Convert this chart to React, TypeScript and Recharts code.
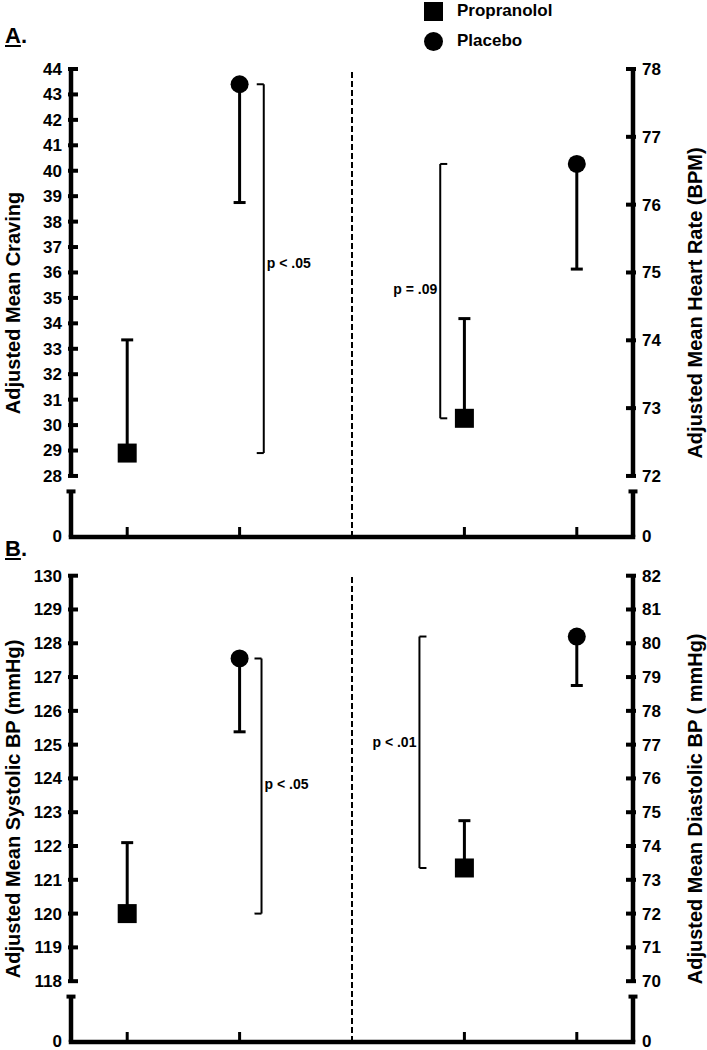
import React from 'react';
import { ComposedChart, Scatter, ErrorBar, XAxis, YAxis, ReferenceLine, Legend } from 'recharts';

const FONT = '"Liberation Sans", Arial, Helvetica, sans-serif';

const groups = ['Propranolol', 'Placebo'];
// x slots: left measure at 1 and 3, right measure at 7 and 9 (axis runs 0..10)
const leftSlots = [1, 3];
const rightSlots = [7, 9];

// Panel A
const craving = [28.9, 43.4];
const cravingErr = [4.45, 4.65];
const heartRate = [72.85, 76.6];
const heartRateErr = [1.47, 1.55];
const cravingTicks = [28, 29, 30, 31, 32, 33, 34, 35, 36, 37, 38, 39, 40, 41, 42, 43, 44];
const heartRateTicks = [72, 73, 74, 75, 76, 77, 78];
const pA = ['p < .05', 'p = .09'];

// Panel B
const systolic = [120.0, 127.55];
const systolicErr = [2.1, 2.17];
const diastolic = [73.35, 80.2];
const diastolicErr = [1.4, 1.45];
const systolicTicks = [118, 119, 120, 121, 122, 123, 124, 125, 126, 127, 128, 129, 130];
const diastolicTicks = [70, 71, 72, 73, 74, 75, 76, 77, 78, 79, 80, 81, 82];
const pB = ['p < .05', 'p < .01'];

const GAP = 0.15; // broken-axis gap, as a share of the axis range
const CAP = 0.038;

const squareShape = (p: any) => (
  <rect x={p.cx - 9.5} y={p.cy - 9.5} width={19} height={19} fill="#000" />
);
const circleShape = (p: any) => <circle cx={p.cx} cy={p.cy} r={9} fill="#000" />;

const XTick = (props: any) => {
  const { x, y } = props;
  return <line x1={x} x2={x} y1={y} y2={y - 10} stroke="#000" strokeWidth={3} />;
};

const makeYTick = (side: 'left' | 'right', lo: number, cap: number) => (props: any) => {
  const { x, y, payload } = props;
  const v = payload.value as number;
  const inward = side === 'left' ? 1 : -1;
  if (Math.abs(v - cap) < 1e-6) {
    return <line x1={x - 4.5} x2={x + 4.5} y1={y} y2={y} stroke="#000" strokeWidth={4} />;
  }
  const isZero = Math.abs(v - lo) < 1e-6;
  return (
    <g>
      {!isZero && (
        <line x1={x - 3 * inward} x2={x + 7 * inward} y1={y} y2={y} stroke="#000" strokeWidth={4} />
      )}
      <text
        x={side === 'left' ? x - 9 : x + 9}
        y={y}
        dy={isZero ? '0.3em' : '0.35em'}
        textAnchor={side === 'left' ? 'end' : 'start'}
        fontFamily={FONT}
        fontWeight={700}
        fontSize={17}
        fill="#000"
      >
        {isZero ? '0' : v}
      </text>
    </g>
  );
};

type Measure = {
  title: string;
  ticks: number[];
  values: number[];
  errs: number[];
  p: string;
  titleOffset: number;
  bracketX: number;
  labelDy: number;
};

type PanelProps = {
  top: number;
  height: number;
  plotTop: number;
  plotBottom: number;
  left: Measure;
  right: Measure;
  legend?: boolean;
};

const axisRange = (ticks: number[]) => {
  const min = ticks[0];
  const max = ticks[ticks.length - 1];
  const lo = min - GAP * (max - min);
  const cap = min - CAP * (max - min);
  return { min, max, lo, cap };
};

function Panel({ top, height, plotTop, plotBottom, left, right, legend }: PanelProps) {
  const L = axisRange(left.ticks);
  const R = axisRange(right.ticks);
  const X_H = 5;
  const margin = { top: plotTop, bottom: height - plotBottom - X_H, left: 0, right: 0 };
  const TICK = 0.125;

  const seriesFor = (m: Measure, slots: number[]) => [
    [{ x: slots[0], y: m.values[0], err: [0, m.errs[0]] }],
    [{ x: slots[1], y: m.values[1], err: [m.errs[1], 0] }],
  ];
  const [lPro, lPla] = seriesFor(left, leftSlots);
  const [rPro, rPla] = seriesFor(right, rightSlots);

  const bracket = (id: string, m: Measure, dir: number, pos: 'left' | 'right') => {
    const lowV = Math.min(m.values[0], m.values[1]);
    const highV = Math.max(m.values[0], m.values[1]);
    const common = { yAxisId: id, stroke: '#000', strokeWidth: 2, ifOverflow: 'visible' as const };
    return [
      <ReferenceLine
        key={id + 'v'}
        {...common}
        segment={[{ x: m.bracketX, y: lowV }, { x: m.bracketX, y: highV }]}
        label={{
          value: m.p,
          position: pos,
          offset: 3,
          dy: m.labelDy,
          fill: '#000',
          fontSize: 14,
          fontWeight: 700,
          fontFamily: FONT,
        }}
      />,
      <ReferenceLine
        key={id + 'l'}
        {...common}
        segment={[{ x: m.bracketX, y: lowV }, { x: m.bracketX + dir * TICK, y: lowV }]}
      />,
      <ReferenceLine
        key={id + 'h'}
        {...common}
        segment={[{ x: m.bracketX, y: highV }, { x: m.bracketX + dir * TICK, y: highV }]}
      />,
    ];
  };

  const axisLine = { stroke: '#000', strokeWidth: 4.5, ifOverflow: 'visible' as const };

  return (
    <div style={{ position: 'absolute', left: 0, top }}>
      <ComposedChart width={707} height={height} margin={margin}>
        <XAxis
          type="number"
          dataKey="x"
          domain={[0, 10]}
          ticks={[...leftSlots, ...rightSlots]}
          allowDataOverflow
          height={X_H}
          axisLine={{ stroke: '#000', strokeWidth: 4.5, strokeLinecap: 'square' }}
          tickLine={false}
          tickSize={0}
          tickMargin={0}
          tick={XTick}
          interval={0}
        />
        <YAxis
          yAxisId="left"
          type="number"
          dataKey="y"
          width={71}
          domain={[L.lo, L.max]}
          allowDataOverflow
          ticks={[L.lo, L.cap, ...left.ticks]}
          interval={0}
          axisLine={false}
          tickLine={false}
          tickSize={0}
          tickMargin={0}
          tick={makeYTick('left', L.lo, L.cap)}
          label={{
            value: left.title,
            angle: -90,
            position: 'insideLeft',
            offset: left.titleOffset,
            style: { textAnchor: 'middle' },
            fill: '#000',
            fontSize: 20,
            fontWeight: 700,
            fontFamily: FONT,
          }}
        />
        <YAxis
          yAxisId="right"
          orientation="right"
          type="number"
          dataKey="y"
          width={74}
          domain={[R.lo, R.max]}
          allowDataOverflow
          ticks={[R.lo, R.cap, ...right.ticks]}
          interval={0}
          axisLine={false}
          tickLine={false}
          tickSize={0}
          tickMargin={0}
          tick={makeYTick('right', R.lo, R.cap)}
          label={{
            value: right.title,
            angle: -90,
            position: 'insideRight',
            offset: right.titleOffset,
            style: { textAnchor: 'middle' },
            fill: '#000',
            fontSize: 20,
            fontWeight: 700,
            fontFamily: FONT,
          }}
        />

        {/* broken axis lines */}
        <ReferenceLine {...axisLine} yAxisId="left" segment={[{ x: 0, y: L.min }, { x: 0, y: L.max }]} />
        <ReferenceLine {...axisLine} yAxisId="left" segment={[{ x: 0, y: L.lo }, { x: 0, y: L.cap }]} />
        <ReferenceLine {...axisLine} yAxisId="right" segment={[{ x: 10, y: R.min }, { x: 10, y: R.max }]} />
        <ReferenceLine {...axisLine} yAxisId="right" segment={[{ x: 10, y: R.lo }, { x: 10, y: R.cap }]} />

        <ReferenceLine yAxisId="left" x={5} stroke="#000" strokeWidth={2} strokeDasharray="6 3" />

        {bracket('left', left, -1, 'right')}
        {bracket('right', right, 1, 'left')}

        <Scatter yAxisId="left" name={groups[0]} data={lPro} fill="#000" legendType="square" shape={squareShape} isAnimationActive={false}>
          <ErrorBar dataKey="err" direction="y" width={6} stroke="#000" strokeWidth={3} />
        </Scatter>
        <Scatter yAxisId="left" name={groups[1]} data={lPla} fill="#000" legendType="circle" shape={circleShape} isAnimationActive={false}>
          <ErrorBar dataKey="err" direction="y" width={6} stroke="#000" strokeWidth={3} />
        </Scatter>
        <Scatter yAxisId="right" name={groups[0] + ' '} data={rPro} fill="#000" legendType="none" shape={squareShape} isAnimationActive={false}>
          <ErrorBar dataKey="err" direction="y" width={6} stroke="#000" strokeWidth={3} />
        </Scatter>
        <Scatter yAxisId="right" name={groups[1] + ' '} data={rPla} fill="#000" legendType="none" shape={circleShape} isAnimationActive={false}>
          <ErrorBar dataKey="err" direction="y" width={6} stroke="#000" strokeWidth={3} />
        </Scatter>

        {legend && (
          <Legend
            layout="vertical"
            align="center"
            verticalAlign="middle"
            iconSize={19}
            itemSorter={(item: any) => groups.indexOf(String(item.value).trim())}
            wrapperStyle={{
              top: -4,
              left: 424,
              width: 'auto',
              lineHeight: '30px',
              fontFamily: FONT,
              fontWeight: 700,
              fontSize: 17,
            }}
            formatter={(v: string) => <span style={{ marginLeft: 10, color: '#000' }}>{v}</span>}
          />
        )}
      </ComposedChart>
    </div>
  );
}

const panelLabel = (letter: string, top: number) => (
  <div
    style={{
      position: 'absolute',
      left: 5,
      top,
      fontFamily: FONT,
      fontWeight: 700,
      fontSize: 22,
      lineHeight: '22px',
      color: '#000',
    }}
  >
    <span style={{ textDecoration: 'underline' }}>{letter}</span>.
  </div>
);

export default function App() {
  return (
    <div style={{ position: 'absolute', left: 0, top: 0, width: 707, height: 1050, overflow: 'hidden', background: '#fff' }}>
      <Panel
        top={0}
        height={560}
        plotTop={69}
        plotBottom={537}
        legend
        left={{ title: 'Adjusted Mean Craving', ticks: cravingTicks, values: craving, errs: cravingErr, p: pA[0], titleOffset: 13, bracketX: 3.43, labelDy: -6 }}
        right={{ title: 'Adjusted Mean Heart Rate (BPM)', ticks: heartRateTicks, values: heartRate, errs: heartRateErr, p: pA[1], titleOffset: 12, bracketX: 6.57, labelDy: -2 }}
      />
      <Panel
        top={525}
        height={525}
        plotTop={50.7}
        plotBottom={517}
        left={{ title: 'Adjusted Mean Systolic BP (mmHg)', ticks: systolicTicks, values: systolic, errs: systolicErr, p: pB[0], titleOffset: 13, bracketX: 3.39, labelDy: -2 }}
        right={{ title: 'Adjusted Mean Diastolic BP ( mmHg)', ticks: diastolicTicks, values: diastolic, errs: diastolicErr, p: pB[1], titleOffset: 12, bracketX: 6.2, labelDy: -10 }}
      />
      {panelLabel('A', 25)}
      {panelLabel('B', 538)}
    </div>
  );
}
